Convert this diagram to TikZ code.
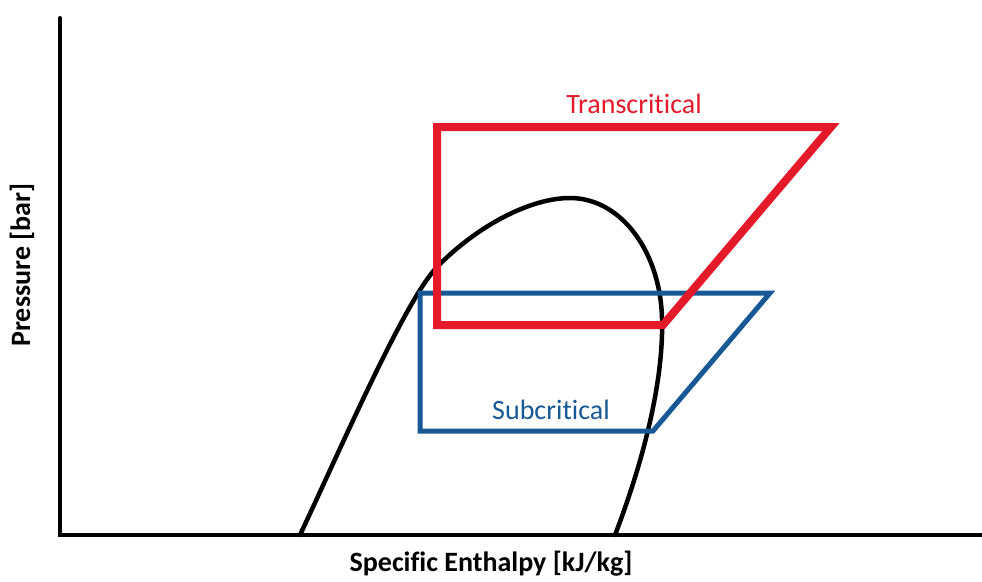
\documentclass[tikz,border=0pt]{standalone}
\usepackage{fontspec}
\setmainfont{Carlito}[Ligatures=NoCommon]
\definecolor{transred}{RGB}{228,26,43}
\definecolor{subblue}{RGB}{24,88,148}
\tikzset{
  axisline/.style={line width=4pt, line cap=round, line join=miter},
  domeline/.style={line width=4.5pt, line cap=round},
  transcycle/.style={draw=transred, line width=8pt, line join=miter},
  subcycle/.style={draw=subblue, line width=5pt, line join=miter},
  axislabel/.style={font=\bfseries\fontsize{28}{33}\selectfont, inner sep=0pt},
  cyclelabel/.style={font=\fontsize{28}{33}\selectfont, inner sep=0pt}
}
\begin{document}
\begin{tikzpicture}[x=1pt,y=-1pt]
\useasboundingbox (0,0) rectangle (982,581);
% axes
\draw[axisline] (60,18) -- (60,535) -- (982,535);
% dome
\draw[domeline] (300,535) .. controls (340,450) and (405,300) .. (437,267)
  .. controls (477,226) and (530,198) .. (570,198)
  .. controls (620,198) and (660,250) .. (662,318)
  .. controls (664,386) and (640,470) .. (615,535);
% subcritical cycle
\draw[subcycle] (420,293) -- (770,293) -- (653,431) -- (420,431) -- cycle;
% transcritical cycle
\draw[transcycle] (437,127) -- (831,127) -- (663,325) -- (437,325) -- cycle;
% labels
\node[cyclelabel, text=transred] (trans) at (634,104) {Transcritical};
\node[cyclelabel, text=subblue] (sub) at (551,410) {Subcritical};
\node[axislabel] (xlab) at (491,564) {Specific Enthalpy [kJ/kg]};
\node[axislabel, rotate=90] (ylab) at (22,265) {Pressure [bar]};
\end{tikzpicture}
\end{document}
